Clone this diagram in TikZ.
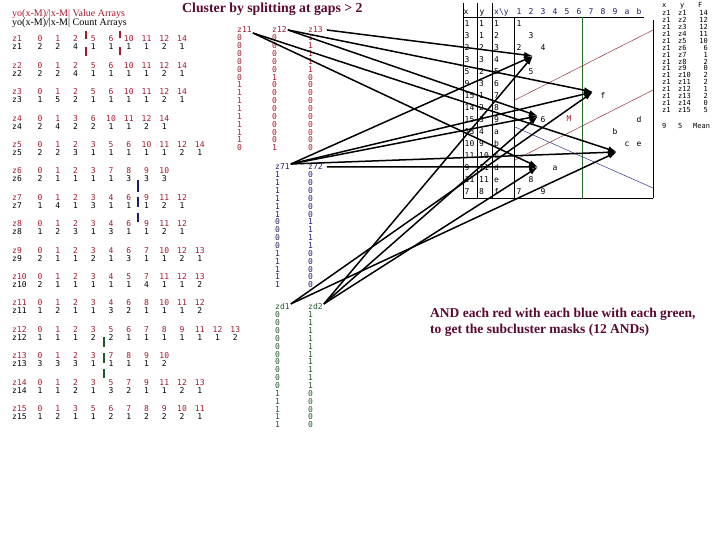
\documentclass[tikz,border=0pt]{standalone}
\usepackage{fontspec}
\setmainfont{Liberation Serif}
\newfontfamily\monof{DejaVu Sans Mono}
\usetikzlibrary{arrows.meta}
\definecolor{redtxt}{RGB}{165,25,45}
\definecolor{bluetxt}{RGB}{30,30,110}
\definecolor{greentxt}{RGB}{30,90,40}
\definecolor{titlec}{RGB}{90,10,50}
\definecolor{thinred}{RGB}{150,50,60}
\definecolor{thinblue}{RGB}{50,50,140}
\definecolor{gline}{RGB}{40,110,40}
\tikzset{
 lab/.style={font=\monof\fontsize{8}{8}\selectfont, inner sep=0pt, anchor=base, yshift=-2.9pt},
 tinylab/.style={font=\monof\fontsize{7}{7}\selectfont, inner sep=0pt, anchor=base, yshift=-2.5pt},
 link/.style={line width=1.5pt, -{Latex[length=9pt,width=6pt]}},
 gridline/.style={line width=0.6pt},
 redbar/.style={line width=2pt, redtxt},
 bluebar/.style={line width=2pt, bluetxt},
 greenbar/.style={line width=2pt, greentxt},
}
\newcommand\zrow[4]{%
 \node[lab,text=redtxt,anchor=base west] (zl#1) at (12,#2) {z#1};
 \node[lab,anchor=base west] (zc#1) at (12,#2+8) {z#1};
 \foreach \v [count=\k] in {#3} \node[lab,text=redtxt] (zv#1-\k) at ({40+17.75*(\k-1)},#2) {\v};
 \foreach \v [count=\k] in {#4} \node[lab] (zn#1-\k) at ({40+17.75*(\k-1)},#2+8) {\v};
}
\newcommand\mcol[6]{%
 \node[lab,text=#5,anchor=base west] (#1) at (#3,#4) {#2};
 \foreach \v [count=\k] in {#6} \node[lab,text=#5,anchor=base west] (#1-\k) at (#3,{#4+7.86*\k}) {\v};
}
\begin{document}
\begin{tikzpicture}[x=1pt,y=-1pt]
\useasboundingbox (0,0) rectangle (720,540);
\fill[white] (0,0) rectangle (720,540);
% title
\node[font=\bfseries\fontsize{13.8}{14}\selectfont, text=titlec, anchor=west, inner sep=0pt] (title) at (182,9) {Cluster by splitting at gaps > 2};
% left header
\node[font=\fontsize{10}{10}\selectfont, text=redtxt, anchor=west, inner sep=0pt] (hval) at (12,14) {yo(x-M)/|x-M| Value Arrays};
\node[font=\fontsize{10}{10}\selectfont, anchor=west, inner sep=0pt] (hcnt) at (12,23) {yo(x-M)/|x-M| Count Arrays};
% left arrays
\zrow{1}{39}{0,1,2,5,6,10,11,12,14}{2,2,4,1,1,1,1,2,1}
\zrow{2}{65.4}{0,1,2,5,6,10,11,12,14}{2,2,4,1,1,1,1,2,1}
\zrow{3}{91.8}{0,1,2,5,6,10,11,12,14}{1,5,2,1,1,1,1,2,1}
\zrow{4}{118.2}{0,1,3,6,10,11,12,14}{2,4,2,2,1,1,2,1}
\zrow{5}{144.6}{0,1,2,3,5,6,10,11,12,14}{2,2,3,1,1,1,1,1,2,1}
\zrow{6}{171}{0,1,2,3,7,8,9,10}{2,1,1,1,1,3,3,3}
\zrow{7}{197.4}{0,1,2,3,4,6,9,11,12}{1,4,1,3,1,1,1,2,1}
\zrow{8}{223.8}{0,1,2,3,4,6,9,11,12}{1,2,3,1,3,1,1,2,1}
\zrow{9}{250.2}{0,1,2,3,4,6,7,10,12,13}{2,1,1,2,1,3,1,1,2,1}
\zrow{10}{276.6}{0,1,2,3,4,5,7,11,12,13}{2,1,1,1,1,1,4,1,1,2}
\zrow{11}{303}{0,1,2,3,4,6,8,10,11,12}{1,2,1,1,3,2,1,1,1,2}
\zrow{12}{329.4}{0,1,2,3,5,6,7,8,9,11,12,13}{1,1,1,2,2,1,1,1,1,1,1,2}
\zrow{13}{355.8}{0,1,2,3,7,8,9,10}{3,3,3,1,1,1,1,2}
\zrow{14}{382.2}{0,1,2,3,5,7,9,11,12,13}{1,1,2,1,3,2,1,1,2,1}
\zrow{15}{408.6}{0,1,3,5,6,7,8,9,10,11}{1,2,1,1,2,1,2,2,2,1}
% gap bars
\draw[redbar] (86,31) -- (86,39) (86,47) -- (86,56);
\draw[redbar] (120,31) -- (120,38) (120,47) -- (120,55);
\draw[bluebar] (138,180) -- (138,192) (138,197) -- (138,207) (138,213) -- (138,222);
\draw[greenbar] (104,337) -- (104,347) (104,353) -- (104,363) (104,369) -- (104,378);
% middle columns
\mcol{hz11}{z11}{237}{30}{redtxt}{0,0,0,0,0,0,1,1,1,1,1,1,1,1,0}
\mcol{hz12}{z12}{272}{30}{redtxt}{0,0,0,0,0,1,0,0,0,0,0,0,0,0,1}
\mcol{hz13}{z13}{308}{30}{redtxt}{1,1,1,1,1,0,0,0,0,0,0,0,0,0,0}
\mcol{hz71}{z71}{275}{167}{bluetxt}{1,1,1,1,1,1,0,0,0,0,1,1,1,1,1}
\mcol{hz72}{z72}{308}{167}{bluetxt}{0,0,0,0,0,0,1,1,1,1,0,0,0,0,0}
\mcol{hzd1}{zd1}{275}{307}{greentxt}{0,0,0,0,0,0,0,0,0,0,1,1,1,1,1}
\mcol{hzd2}{zd2}{308}{307}{greentxt}{1,1,1,1,1,1,1,1,1,1,0,0,0,0,0}
% top-right table frame
\draw[gridline] (463,3) -- (463,198) (477,3) -- (477,198) (492,3) -- (492,198);
\draw[gridline] (514,17) -- (514,198);
\draw[gridline] (463,17) -- (644,17);
\draw[gridline] (463,198) -- (653,198);
\draw[gridline] (653,20) -- (653,198);
\draw[gridline, gline] (582,17) -- (582,198);
\draw[thinred, line width=0.5pt] (515,100) -- (653,30);
\draw[thinred, line width=0.5pt] (515,160) -- (653,90);
\draw[thinblue, line width=0.5pt] (515,127) -- (653,188);
% header
\node[lab] (thx) at (466,12) {x};
\node[lab] (thy) at (482,12) {y};
\node[lab,text=bluetxt,anchor=base west] (thxy) at (494,12) {x\textbackslash y};
\foreach \h [count=\k] in {1,2,3,4,5,6,7,8,9,a,b}
  \node[lab,text=bluetxt] (thc\k) at ({519+12*(\k-1)},12) {\h};
% rows and scatter
\foreach \xv/\yv/\lv [count=\r] in {1/1/1,3/1/2,2/2/3,3/3/4,5/2/5,9/3/6,15/1/7,14/2/8,15/3/9,13/4/a,10/9/b,11/10/c,9/11/d,11/11/e,7/8/f} {
  \node[lab,anchor=base west] (tx\r) at (464.5,{23.3+12*(\r-1)}) {\xv};
  \node[lab,anchor=base west] (ty\r) at (479,{23.3+12*(\r-1)}) {\yv};
  \node[lab,anchor=base west] (tl\r) at (494,{23.3+12*(\r-1)}) {\lv};
  \node[lab] (pt\r) at ({519+12*(\yv-1)},{23.3+12*(\xv-1)}) {\lv};
}
\node[lab,text=redtxt] (mean) at (569,119) {M};
% right table
\node[tinylab,anchor=base west] (rhx) at (662,5) {x};
\node[tinylab,anchor=base west] (rhy) at (680,5) {y};
\node[tinylab,anchor=base west] (rhf) at (698,5) {F};
\foreach \f [count=\r] in {14,12,12,11,10,6,1,2,0,2,2,1,2,0,5} {
  \node[tinylab,anchor=base west] (rx\r) at (662,{13+6.93*(\r-1)}) {z1};
  \node[tinylab,anchor=base west] (ry\r) at (678,{13+6.93*(\r-1)}) {z\r};
  \node[tinylab,anchor=base east] (rf\r) at (708,{13+6.93*(\r-1)}) {\f};
}
\node[tinylab,anchor=base west] (rm1) at (662,126) {9};
\node[tinylab,anchor=base west] (rm2) at (678,126) {5};
\node[tinylab,anchor=base west] (rm3) at (693,126) {Mean};
% cluster targets
\coordinate (tA) at (533,56);
\coordinate (tB) at (538,116);
\coordinate (tC) at (538,167);
\coordinate (tD) at (593,92);
\coordinate (tE) at (617,152);
% arrow starts
\coordinate (s11) at ([xshift=1pt,yshift=-3pt]hz11.east);
\coordinate (s12) at ([xshift=1pt]hz12.east);
\coordinate (s13) at ([xshift=4pt]hz13.east);
\coordinate (s71) at ([xshift=1pt,yshift=3pt]hz71.east);
\coordinate (s72) at ([xshift=4pt]hz72.east);
\coordinate (sd1) at ([xshift=1pt,yshift=3pt]hzd1.east);
\coordinate (sd2) at ([xshift=1pt,yshift=3pt]hzd2.east);
\draw[link] (s11) -- (tC);
\draw[link] (s11) -- (tE);
\draw[link] (s12) -- (tB);
\draw[link] (s12) -- (tD);
\draw[link] (s13) -- (tA);
\draw[link] (s71) -- (tA);
\draw[link] (s71) -- (tB);
\draw[link] (s71) -- (tD);
\draw[link] (s71) -- (tE);
\draw[link] (s72) -- (tC);
\draw[link] (sd1) -- (tD);
\draw[link] (sd1) -- (tE);
\draw[link] (sd2) -- (tA);
\draw[link] (sd2) -- (tB);
\draw[link] (sd2) -- (tC);
% note
\node[font=\bfseries\fontsize{13.5}{14}\selectfont, text=titlec, anchor=west, inner sep=0pt] (note1) at (430,314) {AND each red with each blue with each green,};
\node[font=\bfseries\fontsize{13.5}{14}\selectfont, text=titlec, anchor=west, inner sep=0pt] (note2) at (430,330) {to get the subcluster masks (12 ANDs)};
\end{tikzpicture}
\end{document}
